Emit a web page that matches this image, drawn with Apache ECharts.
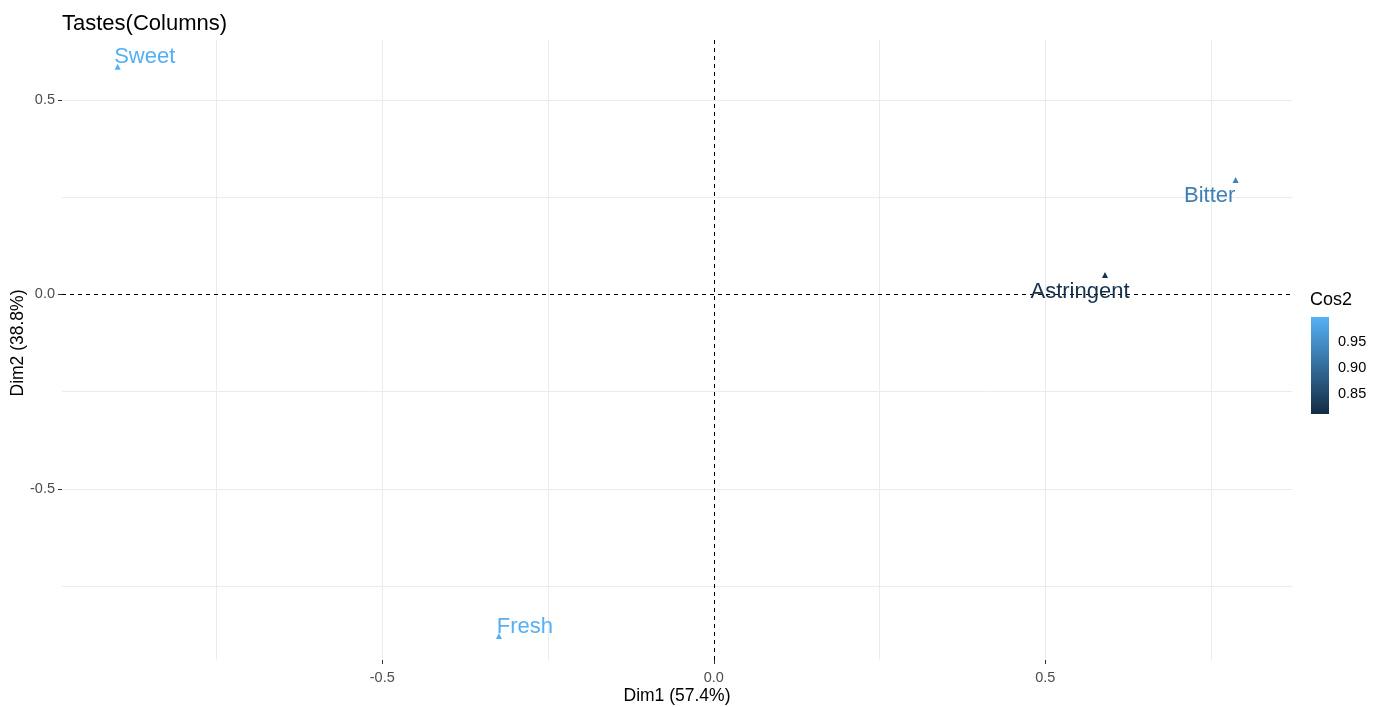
<!DOCTYPE html>
<html>
<head>
<meta charset="utf-8">
<script src="https://cdn.jsdelivr.net/npm/echarts@6/dist/echarts.min.js"></script>
<style>html,body{margin:0;padding:0;background:#fff;}#c{width:1382px;height:707px;}</style>
</head>
<body>
<div id="c"></div>
<script>
// ---- data ----
const tastes = ['Sweet', 'Fresh', 'Bitter', 'Astringent'];
const dim1 = [-0.899, -0.324, 0.787, 0.590];
const dim2 = [0.585, -0.878, 0.294, 0.050];
const cos2 = [0.995, 0.995, 0.93, 0.82];
const xTicks = [-0.5, 0, 0.5];
const yTicks = [-0.5, 0, 0.5];
const xGrid = [-0.75, -0.5, -0.25, 0.25, 0.5, 0.75];
const yGrid = [-0.75, -0.5, -0.25, 0.25, 0.5];
const cosTicks = [0.85, 0.90, 0.95];
const cosRange = [0.8115, 0.998];

// ---- styling (label placement per point) ----
const labelOffsets = [[27, -10], [26, -9], [-26, 16], [-25, 17]];
const FONT = '"Liberation Sans", Arial, Helvetica, sans-serif';
const low = '#132B43', high = '#56B1F7';

const points = tastes.map((t, i) => ({
  value: [dim1[i], dim2[i], cos2[i]],
  name: t,
  label: { offset: labelOffsets[i] }
}));

const hiddenLine = { show: true, onZero: false, lineStyle: { color: 'rgba(0,0,0,0)' } };

const chart = echarts.init(document.getElementById('c'), null, { renderer: 'canvas' });
chart.setOption({
  backgroundColor: '#ffffff',
  animation: false,
  textStyle: { fontFamily: FONT },
  title: [
    { text: 'Tastes(Columns)', left: 57, top: 8,
      textStyle: { fontFamily: FONT, fontSize: 22, fontWeight: 'normal', color: '#000' } },
    { text: 'Cos2', left: 1305, top: 286,
      textStyle: { fontFamily: FONT, fontSize: 18, fontWeight: 'normal', color: '#000' } }
  ],
  grid: [
    { left: 62, right: 90, top: 40, bottom: 47, outerBoundsMode: 'none', containLabel: false },
    { left: 1311, width: 18, top: 317, height: 97, outerBoundsMode: 'none', containLabel: false }
  ],
  visualMap: {
    show: false, type: 'continuous', seriesIndex: 0, dimension: 2,
    min: cosRange[0], max: cosRange[1],
    inRange: { color: [low, high] }
  },
  xAxis: [
    { type: 'value', gridIndex: 0, min: -0.983, max: 0.872,
      name: 'Dim1 (57.4%)', nameLocation: 'middle', nameGap: 27, nameMoveOverlap: false,
      nameTextStyle: { fontFamily: FONT, fontSize: 17.5, color: '#000' },
      axisLine: hiddenLine,
      axisTick: { show: true, customValues: xTicks, length: 4, lineStyle: { color: '#333', width: 1 } },
      axisLabel: { customValues: xTicks, margin: 10, fontSize: 14.5, color: '#4D4D4D', fontFamily: FONT,
        formatter: v => v.toFixed(1) },
      splitLine: { show: false } },
    { type: 'value', gridIndex: 1, min: 0, max: 1, show: false }
  ],
  yAxis: [
    { type: 'value', gridIndex: 0, min: -0.94, max: 0.654,
      name: 'Dim2 (38.8%)', nameLocation: 'middle', nameGap: 35, nameMoveOverlap: false,
      nameTextStyle: { fontFamily: FONT, fontSize: 17.5, color: '#000', padding: [0, 0, 0, 14] },
      axisLine: hiddenLine,
      axisTick: { show: true, customValues: yTicks, length: 4, lineStyle: { color: '#333', width: 1 } },
      axisLabel: { customValues: yTicks, margin: 7, fontSize: 14.5, color: '#4D4D4D', fontFamily: FONT,
        formatter: v => v.toFixed(1) },
      splitLine: { show: false } },
    { type: 'value', gridIndex: 1, min: cosRange[0], max: cosRange[1], position: 'right',
      axisLine: hiddenLine,
      axisTick: { show: true, inside: true, customValues: cosTicks, length: 4, lineStyle: { color: 'rgba(255,255,255,0.6)', width: 1 } },
      axisLabel: { customValues: cosTicks, margin: 9, fontSize: 14.5, color: '#000', fontFamily: FONT,
        formatter: v => v.toFixed(2) },
      splitLine: { show: false } },
    { type: 'value', gridIndex: 1, min: cosRange[0], max: cosRange[1], position: 'left',
      axisLine: hiddenLine,
      axisTick: { show: true, inside: true, customValues: cosTicks, length: 4, lineStyle: { color: 'rgba(255,255,255,0.6)', width: 1 } },
      axisLabel: { show: false },
      splitLine: { show: false } }
  ],
  series: [
    {
      type: 'scatter', xAxisIndex: 0, yAxisIndex: 0,
      symbol: 'triangle', symbolSize: 6,
      itemStyle: { opacity: 1 },
      data: points,
      z: 5,
      label: {
        show: true, position: 'inside', formatter: p => p.name,
        fontFamily: FONT, fontSize: 22, color: 'inherit'
      },
      markLine: {
        silent: true, symbol: 'none', animation: false, z: 1,
        label: { show: false },
        lineStyle: { color: '#EBEBEB', width: 1, type: 'solid' },
        data: xGrid.map(v => ({ xAxis: v })).concat(yGrid.map(v => ({ yAxis: v })))
      }
    },
    {
      type: 'line', xAxisIndex: 0, yAxisIndex: 0, data: [], z: 3,
      markLine: {
        silent: true, symbol: 'none', animation: false,
        label: { show: false },
        lineStyle: { color: '#000', width: 1, type: [4, 4] },
        data: [{ xAxis: 0 }, { yAxis: 0 }]
      }
    },
    {
      type: 'custom', xAxisIndex: 1, yAxisIndex: 1,
      data: [[0, cosRange[0], cosRange[1]]],
      renderItem: (params, api) => {
        const p0 = api.coord([0, api.value(2)]);
        const p1 = api.coord([1, api.value(1)]);
        return {
          type: 'rect',
          shape: { x: p0[0], y: p0[1], width: p1[0] - p0[0], height: p1[1] - p0[1] },
          style: {
            fill: new echarts.graphic.LinearGradient(0, 0, 0, 1, [
              { offset: 0, color: high }, { offset: 1, color: low }
            ])
          }
        };
      },
      z: 1
    }
  ]
});
</script>
</body>
</html>
